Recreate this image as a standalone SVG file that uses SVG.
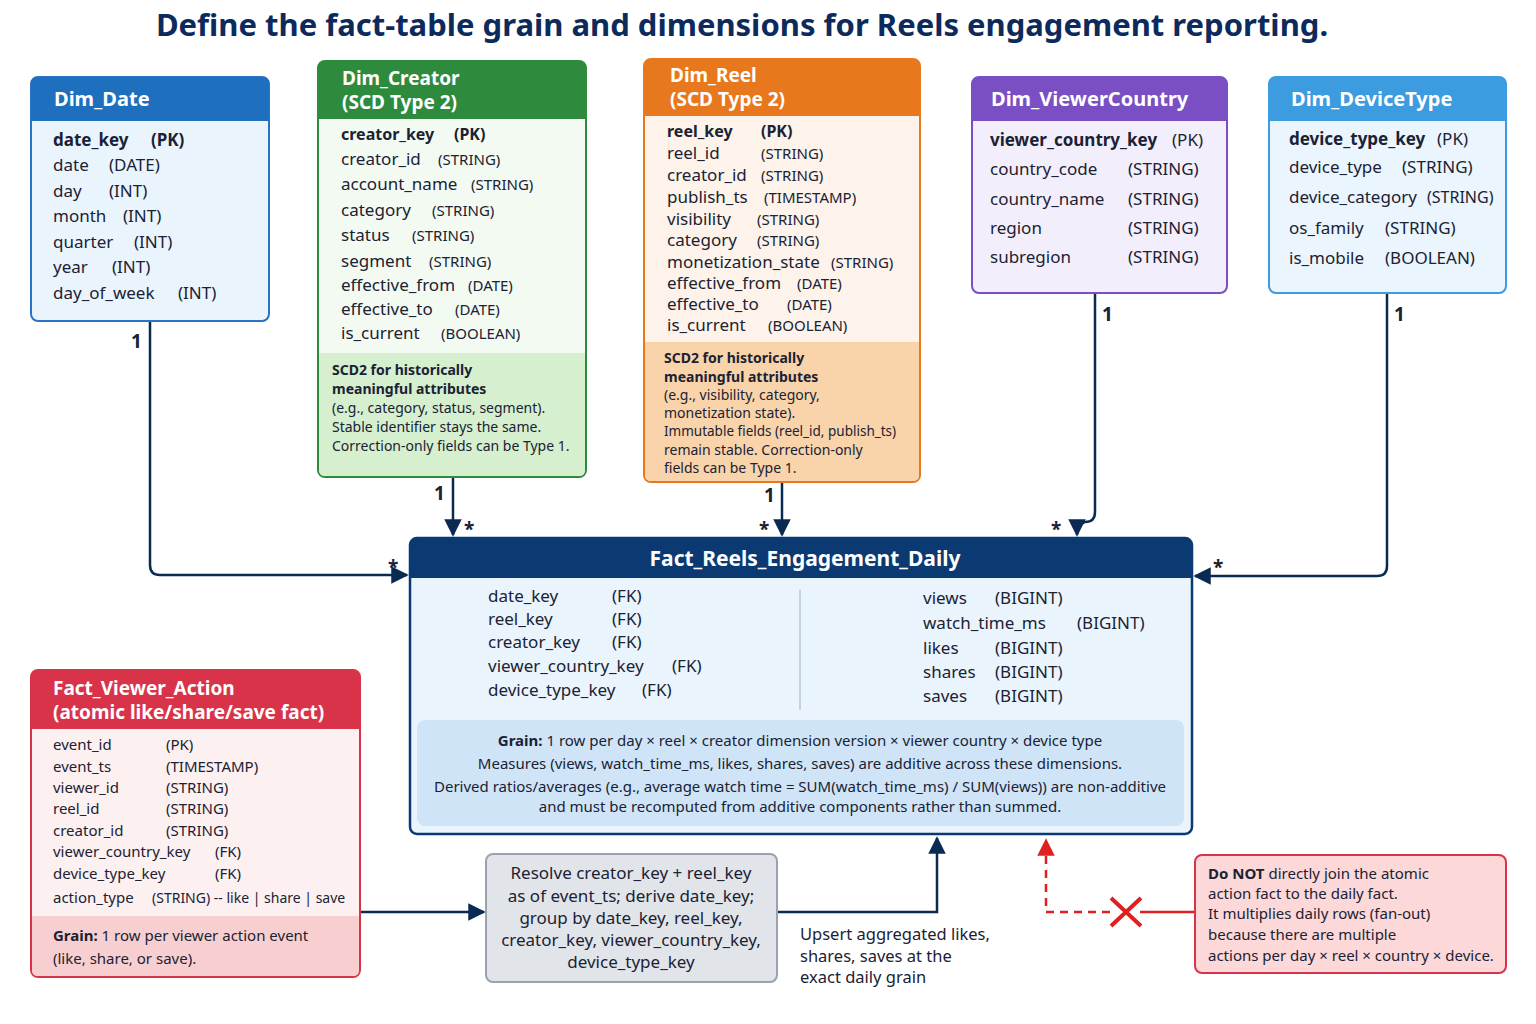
<svg xmlns="http://www.w3.org/2000/svg" width="1536" height="1024" viewBox="0 0 1536 1024">
<defs>
<marker id="a" viewBox="0 0 10 10" refX="9" refY="5" markerWidth="7" markerHeight="7" orient="auto-start-reverse"><path d="M0,0L10,5L0,10z" fill="#0b2a52"/></marker>
<marker id="ar" viewBox="0 0 10 10" refX="9" refY="5" markerWidth="7" markerHeight="7" orient="auto"><path d="M0,0L10,5L0,10z" fill="#e02020"/></marker>
</defs>
<style>
text{font-family:"Noto Sans","Open Sans","DejaVu Sans",sans-serif;fill:#1a2233}
.t{font-size:17px}.s{font-size:15px}.n{font-size:14px}
.h{font-size:20px;font-weight:bold;fill:#fff}
.h2{font-size:19px;font-weight:bold;fill:#fff}
.b{font-weight:bold}
.c{stroke:#0b2a52;stroke-width:2.5;fill:none}
.l{font-size:19px;font-weight:bold}
</style>
<rect width="1536" height="1024" fill="#fff"/>
<text x="742" y="36" text-anchor="middle" style="font-size:31px;font-weight:bold;fill:#0d2a5c">Define the fact-table grain and dimensions for Reels engagement reporting.</text>

<g id="connectors">
<path class="c" d="M150,321V565Q150,575 160,575H407" marker-end="url(#a)"/>
<path class="c" d="M453,477V535" marker-end="url(#a)"/>
<path class="c" d="M782,482V535" marker-end="url(#a)"/>
<path class="c" d="M1095,293V512Q1095,522 1085,522Q1077,524 1077,535" marker-end="url(#a)"/>
<path class="c" d="M1387,293V566Q1387,576 1377,576H1195" marker-end="url(#a)"/>
<path class="c" d="M360,912H484" marker-end="url(#a)"/>
<path class="c" d="M777,912H937V838" marker-end="url(#a)"/>
<path d="M1110,912H1046V840" stroke="#e02020" stroke-width="2.5" fill="none" stroke-dasharray="8,6" marker-end="url(#ar)"/>
<path d="M1140,912H1195" stroke="#e02020" stroke-width="2.5"/>
<path d="M1111,898L1141,926M1141,898L1111,926" stroke="#e02020" stroke-width="4"/>
<text class="l" x="131" y="348">1</text><text class="l" x="388" y="574">*</text>
<text class="l" x="434" y="500">1</text><text class="l" x="464" y="536">*</text>
<text class="l" x="764" y="502">1</text><text class="l" x="759" y="536">*</text>
<text class="l" x="1102" y="321">1</text><text class="l" x="1051" y="536">*</text>
<text class="l" x="1394" y="321">1</text><text class="l" x="1213" y="574">*</text>
<text x="800" y="940" style="font-size:16.5px">Upsert aggregated likes,</text>
<text x="800" y="962" style="font-size:16.5px">shares, saves at the</text>
<text x="800" y="983" style="font-size:16.5px">exact daily grain</text>
</g>

<g id="dim_date">
<rect x="31" y="77" width="238" height="244" rx="7" fill="#eaf4fd" stroke="#2a73c4" stroke-width="2"/>
<path d="M31,121V84Q31,77 38,77H262Q269,77 269,84V121z" fill="#1f6fbf"/>
<text class="h" x="54" y="106">Dim_Date</text>
<text x="53" y="146" class="t b">date_key</text><text x="151" y="146" class="t b">(PK)</text>
<text class="t" x="53" y="171">date</text><text class="t" x="109" y="171">(DATE)</text>
<text class="t" x="53" y="197">day</text><text class="t" x="109" y="197">(INT)</text>
<text class="t" x="53" y="222">month</text><text class="t" x="123" y="222">(INT)</text>
<text class="t" x="53" y="248">quarter</text><text class="t" x="134" y="248">(INT)</text>
<text class="t" x="53" y="273">year</text><text class="t" x="112" y="273">(INT)</text>
<text class="t" x="53" y="299">day_of_week</text><text class="t" x="178" y="299">(INT)</text>
</g>

<g id="dim_creator">
<rect x="318" y="61" width="268" height="416" rx="7" fill="#f3faf2" stroke="#2e8b3e" stroke-width="2"/>
<path d="M318,119V68Q318,61 325,61H579Q586,61 586,68V119z" fill="#2e8b3e"/>
<path d="M319,353H585V470Q585,476 579,476H325Q319,476 319,470z" fill="#d5efcf"/>
<text class="h2" x="342" y="85">Dim_Creator</text><text class="h2" x="342" y="109">(SCD Type 2)</text>
<text class="t b" x="341" y="140" style="font-size:16px">creator_key</text><text class="t b" x="454" y="140" style="font-size:16px">(PK)</text>
<text class="t" x="341" y="165">creator_id</text><text class="s" x="438" y="165">(STRING)</text>
<text class="t" x="341" y="190">account_name</text><text class="s" x="471" y="190">(STRING)</text>
<text class="t" x="341" y="216">category</text><text class="s" x="432" y="216">(STRING)</text>
<text class="t" x="341" y="241">status</text><text class="s" x="412" y="241">(STRING)</text>
<text class="t" x="341" y="267">segment</text><text class="s" x="429" y="267">(STRING)</text>
<text class="t" x="341" y="291">effective_from</text><text class="s" x="468" y="291">(DATE)</text>
<text class="t" x="341" y="315">effective_to</text><text class="s" x="455" y="315">(DATE)</text>
<text class="t" x="341" y="339">is_current</text><text class="s" x="441" y="339">(BOOLEAN)</text>
<text class="n b" x="332" y="375">SCD2 for historically</text>
<text class="n b" x="332" y="394">meaningful attributes</text>
<text class="n" x="332" y="413">(e.g., category, status, segment).</text>
<text class="n" x="332" y="432">Stable identifier stays the same.</text>
<text class="n" x="332" y="451">Correction-only fields can be Type 1.</text>
</g>

<g id="dim_reel">
<rect x="644" y="59" width="276" height="423" rx="7" fill="#fdf3ea" stroke="#e8781e" stroke-width="2"/>
<path d="M644,116V66Q644,59 651,59H913Q920,59 920,66V116z" fill="#e8781e"/>
<path d="M645,342H919V475Q919,481 913,481H651Q645,481 645,475z" fill="#f9d3aa"/>
<text class="h2" x="670" y="82">Dim_Reel</text><text class="h2" x="670" y="106">(SCD Type 2)</text>
<text class="t b" x="667" y="137" style="font-size:16px">reel_key</text><text class="t b" x="761" y="137" style="font-size:16px">(PK)</text>
<text class="t" x="667" y="159">reel_id</text><text class="s" x="761" y="159">(STRING)</text>
<text class="t" x="667" y="181">creator_id</text><text class="s" x="761" y="181">(STRING)</text>
<text class="t" x="667" y="203">publish_ts</text><text class="s" x="764" y="203">(TIMESTAMP)</text>
<text class="t" x="667" y="225">visibility</text><text class="s" x="757" y="225">(STRING)</text>
<text class="t" x="667" y="246">category</text><text class="s" x="757" y="246">(STRING)</text>
<text class="t" x="667" y="268">monetization_state</text><text class="s" x="831" y="268">(STRING)</text>
<text class="t" x="667" y="289">effective_from</text><text class="s" x="797" y="289">(DATE)</text>
<text class="t" x="667" y="310">effective_to</text><text class="s" x="787" y="310">(DATE)</text>
<text class="t" x="667" y="331">is_current</text><text class="s" x="768" y="331">(BOOLEAN)</text>
<text class="n b" x="664" y="363">SCD2 for historically</text>
<text class="n b" x="664" y="382">meaningful attributes</text>
<text class="n" x="664" y="400">(e.g., visibility, category,</text>
<text class="n" x="664" y="418">monetization state).</text>
<text class="n" x="664" y="436" style="font-size:13.5px">Immutable fields (reel_id, publish_ts)</text>
<text class="n" x="664" y="455">remain stable. Correction-only</text>
<text class="n" x="664" y="473">fields can be Type 1.</text>
</g>

<g id="dim_viewercountry">
<rect x="972" y="77" width="255" height="216" rx="7" fill="#f3eefc" stroke="#7a4fc4" stroke-width="2"/>
<path d="M972,121V84Q972,77 979,77H1220Q1227,77 1227,84V121z" fill="#7a4fc4"/>
<text class="h" x="991" y="106">Dim_ViewerCountry</text>
<text class="t b" x="990" y="146">viewer_country_key</text><text class="t" x="1172" y="146">(PK)</text>
<text class="t" x="990" y="175">country_code</text><text class="t" x="1128" y="175">(STRING)</text>
<text class="t" x="990" y="205">country_name</text><text class="t" x="1128" y="205">(STRING)</text>
<text class="t" x="990" y="234">region</text><text class="t" x="1128" y="234">(STRING)</text>
<text class="t" x="990" y="263">subregion</text><text class="t" x="1128" y="263">(STRING)</text>
</g>

<g id="dim_devicetype">
<rect x="1269" y="77" width="237" height="216" rx="7" fill="#eaf5fd" stroke="#3d9be0" stroke-width="2"/>
<path d="M1269,121V84Q1269,77 1276,77H1499Q1506,77 1506,84V121z" fill="#3d9be0"/>
<text class="h" x="1291" y="106">Dim_DeviceType</text>
<text class="t b" x="1289" y="145">device_type_key</text><text class="t" x="1437" y="145">(PK)</text>
<text class="t" x="1289" y="173">device_type</text><text class="t" x="1402" y="173">(STRING)</text>
<text class="t" x="1289" y="203">device_category</text><text class="t" x="1427" y="203" style="font-size:16px">(STRING)</text>
<text class="t" x="1289" y="234">os_family</text><text class="t" x="1385" y="234">(STRING)</text>
<text class="t" x="1289" y="264">is_mobile</text><text class="t" x="1385" y="264">(BOOLEAN)</text>
</g>

<g id="fact_reels">
<rect x="410" y="538" width="782" height="296" rx="7" fill="#eaf4fd" stroke="#0b3a73" stroke-width="2.5"/>
<path d="M410,578V545Q410,538 417,538H1185Q1192,538 1192,545V578z" fill="#0b3a73"/>
<text class="h" x="805" y="566" text-anchor="middle" style="font-size:21px">Fact_Reels_Engagement_Daily</text>
<line x1="800" y1="590" x2="800" y2="710" stroke="#b8c7d8" stroke-width="1.5"/>
<text class="t" x="488" y="602">date_key</text><text class="t" x="612" y="602">(FK)</text>
<text class="t" x="488" y="625">reel_key</text><text class="t" x="612" y="625">(FK)</text>
<text class="t" x="488" y="648">creator_key</text><text class="t" x="612" y="648">(FK)</text>
<text class="t" x="488" y="672">viewer_country_key</text><text class="t" x="672" y="672">(FK)</text>
<text class="t" x="488" y="696">device_type_key</text><text class="t" x="642" y="696">(FK)</text>
<text class="t" x="923" y="604">views</text><text class="t" x="995" y="604">(BIGINT)</text>
<text class="t" x="923" y="629">watch_time_ms</text><text class="t" x="1077" y="629">(BIGINT)</text>
<text class="t" x="923" y="654">likes</text><text class="t" x="995" y="654">(BIGINT)</text>
<text class="t" x="923" y="678">shares</text><text class="t" x="995" y="678">(BIGINT)</text>
<text class="t" x="923" y="702">saves</text><text class="t" x="995" y="702">(BIGINT)</text>
<rect x="417" y="720" width="767" height="106" rx="8" fill="#cfe5f7"/>
<text class="s" x="800" y="746" text-anchor="middle"><tspan class="b">Grain:</tspan> 1 row per day × reel × creator dimension version × viewer country × device type</text>
<text class="s" x="800" y="769" text-anchor="middle">Measures (views, watch_time_ms, likes, shares, saves) are additive across these dimensions.</text>
<text class="s" x="800" y="792" text-anchor="middle">Derived ratios/averages (e.g., average watch time = SUM(watch_time_ms) / SUM(views)) are non-additive</text>
<text class="s" x="800" y="812" text-anchor="middle">and must be recomputed from additive components rather than summed.</text>
</g>

<g id="fact_viewer_action">
<rect x="31" y="670" width="329" height="307" rx="7" fill="#fdf0f0" stroke="#d9334a" stroke-width="2"/>
<path d="M31,729V677Q31,670 38,670H353Q360,670 360,677V729z" fill="#d9334a"/>
<path d="M32,916H359V970Q359,976 353,976H38Q32,976 32,970z" fill="#f8cfd0"/>
<text class="h2" x="53" y="695">Fact_Viewer_Action</text><text class="h2" x="53" y="719">(atomic like/share/save fact)</text>
<text class="s" x="53" y="750">event_id</text><text class="s" x="166" y="750">(PK)</text>
<text class="s" x="53" y="772">event_ts</text><text class="s" x="166" y="772">(TIMESTAMP)</text>
<text class="s" x="53" y="793">viewer_id</text><text class="s" x="166" y="793">(STRING)</text>
<text class="s" x="53" y="814">reel_id</text><text class="s" x="166" y="814">(STRING)</text>
<text class="s" x="53" y="836">creator_id</text><text class="s" x="166" y="836">(STRING)</text>
<text class="s" x="53" y="857">viewer_country_key</text><text class="s" x="215" y="857">(FK)</text>
<text class="s" x="53" y="879">device_type_key</text><text class="s" x="215" y="879">(FK)</text>
<text class="s" x="53" y="903">action_type</text><text class="s" x="152" y="903" style="font-size:14px">(STRING) -- like | share | save</text>
<text class="s" x="53" y="941"><tspan class="b">Grain:</tspan> 1 row per viewer action event</text>
<text class="s" x="53" y="964">(like, share, or save).</text>
</g>

<g id="process">
<rect x="486" y="854" width="291" height="128" rx="7" fill="#e1e5ea" stroke="#9aa3ad" stroke-width="2"/>
<g text-anchor="middle"><text class="t" x="631" y="879">Resolve creator_key + reel_key</text>
<text class="t" x="631" y="902">as of event_ts; derive date_key;</text>
<text class="t" x="631" y="924">group by date_key, reel_key,</text>
<text class="t" x="631" y="946">creator_key, viewer_country_key,</text>
<text class="t" x="631" y="968">device_type_key</text></g>
</g>

<g id="warning">
<rect x="1195" y="855" width="311" height="118" rx="7" fill="#fcd8d8" stroke="#d9334a" stroke-width="2"/>
<text class="s" x="1208" y="879"><tspan class="b">Do NOT</tspan> directly join the atomic</text>
<text class="s" x="1208" y="899">action fact to the daily fact.</text>
<text class="s" x="1208" y="919">It multiplies daily rows (fan-out)</text>
<text class="s" x="1208" y="940">because there are multiple</text>
<text class="s" x="1208" y="961">actions per day × reel × country × device.</text>
</g>
</svg>
